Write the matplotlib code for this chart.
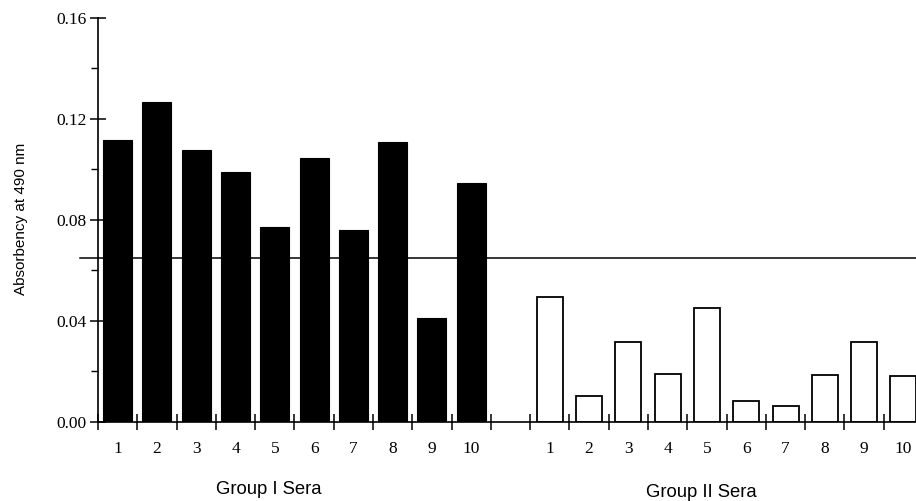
import numpy as np
import matplotlib
matplotlib.use("Agg")
import matplotlib.pyplot as plt
from matplotlib.ticker import FixedLocator, NullFormatter

# ── Data ───────────────────────────────────────────────
sera_labels = [str(i) for i in range(1, 11)]
group1_vals = [0.1117, 0.1267, 0.1077, 0.0991, 0.0771,
               0.1044, 0.0760, 0.1110, 0.0413, 0.0948]
group2_vals = [0.0494, 0.0103, 0.0318, 0.0191, 0.0450,
               0.0083, 0.0065, 0.0186, 0.0317, 0.0181]
cutoff = 0.065
group_names = ["Group I Sera", "Group II Sera"]
# ───────────────────────────────────────────────────────

serif = ["Liberation Serif", "DejaVu Serif"]
sans = ["Liberation Sans", "DejaVu Sans"]

fig = plt.figure(figsize=(9.16, 5.01), dpi=100)
ax = fig.add_axes([0.107, 0.1577, 0.9007, 0.8064])

n = len(sera_labels)
x1 = np.arange(n)                 # slots 0..9
x2 = np.arange(n) + n + 1         # one empty slot, then 11..20

ax.bar(x1, group1_vals, width=0.74, color="black", edgecolor="black", linewidth=0.8)
ax.bar(x2, group2_vals, width=0.66, color="white", edgecolor="black", linewidth=1.3)

# cut-off line, starts a little left of the y axis
ax.plot([-0.95, 2 * n + 1], [cutoff, cutoff], color="black", lw=1.1, clip_on=False)

ax.set_xlim(-0.5, 2 * n + 0.5)
ax.set_ylim(0, 0.16)

for s in ["top", "right"]:
    ax.spines[s].set_visible(False)
ax.spines["left"].set_linewidth(1.2)
ax.spines["bottom"].set_linewidth(1.2)

# y axis: labelled majors, small minors
ax.set_yticks([0.00, 0.04, 0.08, 0.12, 0.16])
ax.set_yticklabels(["0.00", "0.04", "0.08", "0.12", "0.16"], family=serif, fontsize=12.5)
ax.yaxis.set_minor_locator(FixedLocator([0.02, 0.06, 0.10, 0.14]))
ax.tick_params(axis="y", which="major", direction="inout", length=12, width=1.1, pad=2)
ax.tick_params(axis="y", which="minor", direction="out", length=5, width=1.0)

# x axis: tick marks at slot boundaries, labels at bar centres
bounds = np.arange(-0.5, 2 * n + 1, 1.0)
ax.xaxis.set_major_locator(FixedLocator(bounds))
ax.xaxis.set_major_formatter(NullFormatter())
centres = np.concatenate([x1, x2])
ax.xaxis.set_minor_locator(FixedLocator(centres))
ax.set_xticklabels(sera_labels + sera_labels, minor=True, family=serif, fontsize=12.5)
ax.tick_params(axis="x", which="minor", length=0, pad=14)
ax.tick_params(axis="x", which="major", direction="inout", length=11, width=1.1)

ax.set_ylabel("Absorbency at 490 nm", family=sans, fontsize=11)
ax.yaxis.set_label_coords(-0.085, 0.503)

# group captions under the axis
ax.text(x1.mean() - 0.65, -0.0269, group_names[0], family=sans, fontsize=13.3,
        ha="center", va="center")
ax.text(x2.mean() - 0.65, -0.0279, group_names[1], family=sans, fontsize=13.3,
        ha="center", va="center")

fig.savefig("out.png", dpi=100)
